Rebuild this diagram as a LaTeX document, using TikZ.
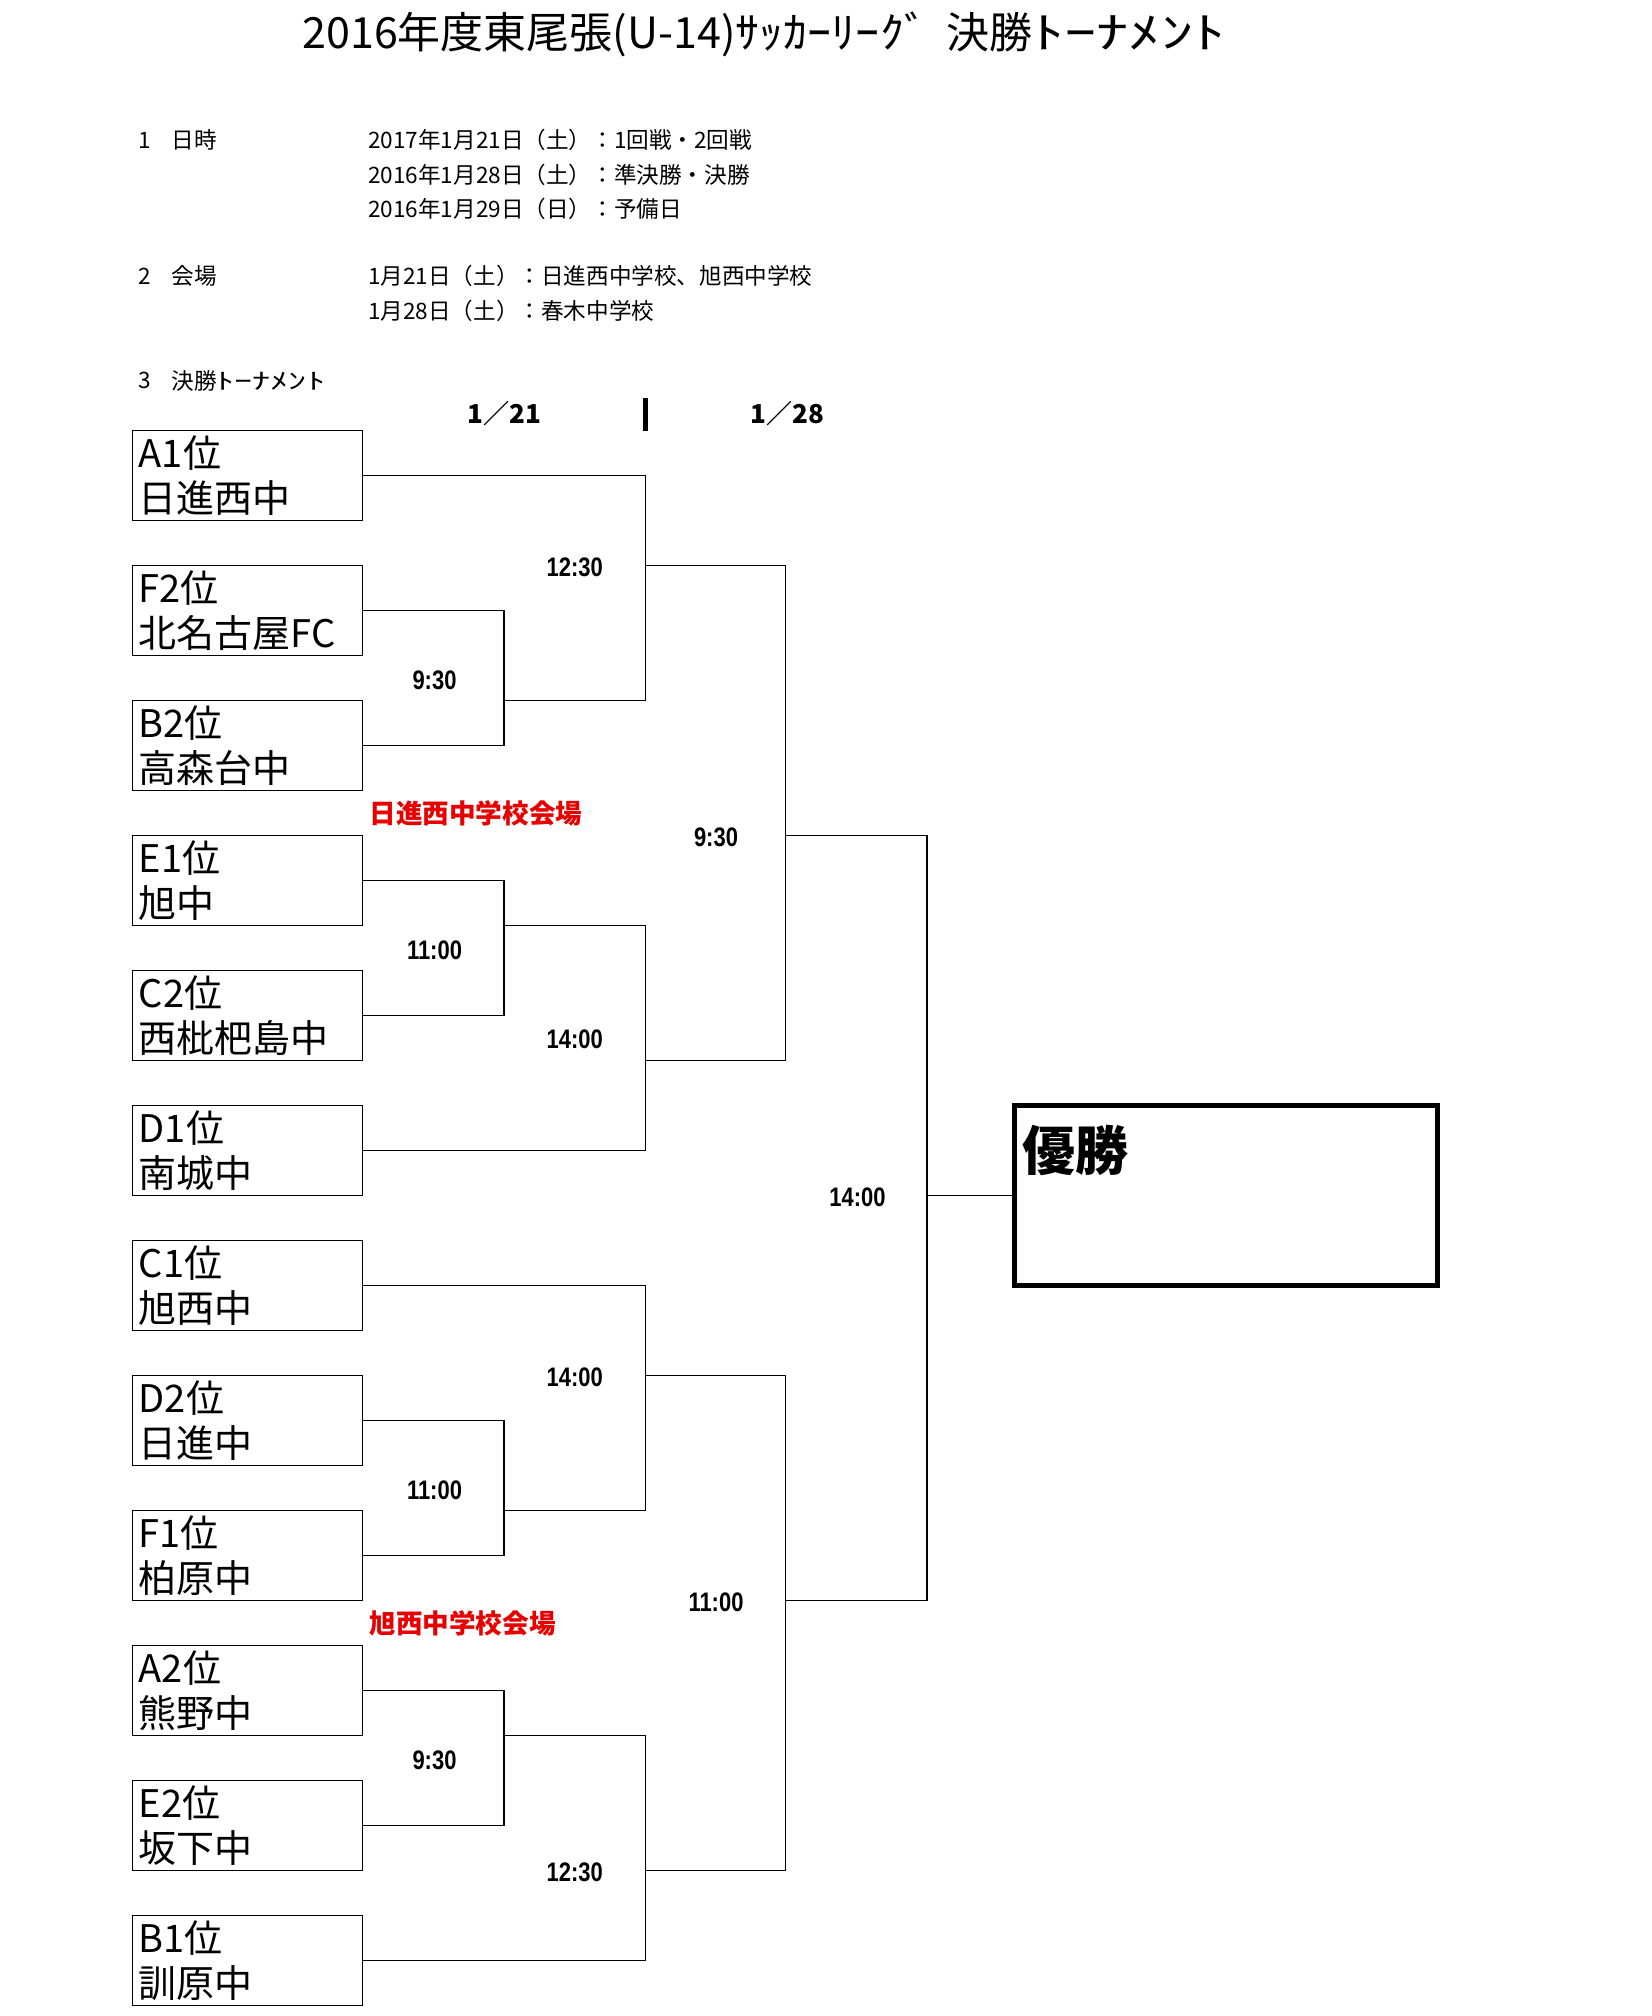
\documentclass[tikz,border=0pt]{standalone}
\usepackage{graphicx}
\usepackage{fontspec}
\setmainfont{Noto Sans CJK JP}
\newfontfamily\latb{Liberation Sans}
\definecolor{venue}{RGB}{232,0,0}
\newcommand\timelbl[1]{\scalebox{0.82}[1]{#1}}
\newcommand\widekana[2]{\scalebox{#1}[1]{#2}}
\begin{document}
\begin{tikzpicture}[x=0.5pt,y=-0.5pt,
  team/.style={draw,line width=0.7pt,minimum width=115pt,minimum height=45pt,
    text width=108.6pt,inner xsep=3.2pt,inner ysep=0pt,align=left,
    font=\fontsize{19pt}{22.5pt}\selectfont},
  conn/.style={line width=0.7pt},
  hdr/.style={anchor=west,inner sep=0pt,font=\fontsize{11.3pt}{13pt}\selectfont},
  tlabel/.style={inner sep=0pt,font=\latb\bfseries\fontsize{13.4pt}{13pt}\selectfont},
  venuelbl/.style={anchor=west,inner sep=0pt,text=venue,font=\bfseries\fontsize{13.3pt}{14pt}\selectfont},
  datelbl/.style={inner sep=0pt,font=\bfseries\fontsize{13pt}{14pt}\selectfont}]
\fill[white] (0,0) rectangle (1652,2016);
\useasboundingbox (0,0) rectangle (1652,2016);

% title
\node[anchor=west,inner sep=0pt,font=\fontsize{21.5pt}{24pt}\selectfont] (title) at (302,34.7)
  {2016年度東尾張(U-14)\widekana{1.12}{ｻｯｶｰﾘｰｸﾞ}\hspace{9pt}決勝\widekana{1.5}{ﾄｰﾅﾒﾝﾄ}};

% header
\node[hdr] (n1) at (137.6,140) {1};
\node[hdr] (k1) at (171,140) {日時};
\node[hdr] (d1) at (367.7,140) {2017年1月21日（土）：1回戦・2回戦};
\node[hdr] (d2) at (367.7,175) {2016年1月28日（土）：準決勝・決勝};
\node[hdr] (d3) at (367.7,208.5) {2016年1月29日（日）：予備日};
\node[hdr] (n2) at (137.6,276.4) {2};
\node[hdr] (k2) at (171,276.4) {会場};
\node[hdr] (v1) at (367.7,276.4) {1月21日（土）：日進西中学校、旭西中学校};
\node[hdr] (v2) at (367.7,311) {1月28日（土）：春木中学校};
\node[hdr] (n3) at (137.6,380.5) {3};
\node[hdr] (k3) at (171,380.5) {決勝\widekana{1.6}{ﾄｰﾅﾒﾝﾄ}};

% dates of rounds
\node[datelbl] (day1) at (504.5,414) {1／21};
\node[datelbl] (day2) at (787.5,414) {1／28};
\draw[line width=2.2pt] (645.4,398.5) -- (645.4,430.7);

% team boxes
\node[team] (t1)  at (247.45,475.7)  {A1位\\日進西中};
\node[team] (t2)  at (247.45,610.7)  {F2位\\北名古屋FC};
\node[team] (t3)  at (247.45,745.6)  {B2位\\高森台中};
\node[team] (t4)  at (247.45,880.6)  {E1位\\旭中};
\node[team] (t5)  at (247.45,1015.6) {C2位\\西枇杷島中};
\node[team] (t6)  at (247.45,1150.6) {D1位\\南城中};
\node[team] (t7)  at (247.45,1285.6) {C1位\\旭西中};
\node[team] (t8)  at (247.45,1420.6) {D2位\\日進中};
\node[team] (t9)  at (247.45,1555.6) {F1位\\柏原中};
\node[team] (t10) at (247.45,1690.6) {A2位\\熊野中};
\node[team] (t11) at (247.45,1825.6) {E2位\\坂下中};
\node[team] (t12) at (247.45,1960.5) {B1位\\訓原中};

% winner box
\node[draw,line width=2.2pt,minimum width=211.5pt,minimum height=90pt,inner sep=0pt] (win) at (1225.8,1195.6) {};
\node[anchor=west,inner sep=0pt,font=\bfseries\fontsize{26.5pt}{28pt}\selectfont] (wintext) at (1022,1150) {優勝};

% junction points
\coordinate (r1a) at (504,700.7);
\coordinate (r2a) at (645.4,565.7);
\coordinate (r1b) at (504,925.6);
\coordinate (r2b) at (645.4,1060.6);
\coordinate (sf1) at (785.5,835.6);
\coordinate (r1c) at (504,1510.6);
\coordinate (r2c) at (645.4,1375.6);
\coordinate (r1d) at (504,1735.6);
\coordinate (r2d) at (645.4,1870.6);
\coordinate (sf2) at (785.5,1600.6);
\coordinate (fin) at (927,1195.6);

% connectors
\draw[conn] (t2.east) -| (r1a);
\draw[conn] (t3.east) -| (r1a);
\draw[conn] (t1.east) -| (r2a);
\draw[conn] (r1a) -| (r2a);
\draw[conn] (t4.east) -| (r1b);
\draw[conn] (t5.east) -| (r1b);
\draw[conn] (r1b) -| (r2b);
\draw[conn] (t6.east) -| (r2b);
\draw[conn] (r2a) -| (sf1);
\draw[conn] (r2b) -| (sf1);
\draw[conn] (t8.east) -| (r1c);
\draw[conn] (t9.east) -| (r1c);
\draw[conn] (t7.east) -| (r2c);
\draw[conn] (r1c) -| (r2c);
\draw[conn] (t10.east) -| (r1d);
\draw[conn] (t11.east) -| (r1d);
\draw[conn] (r1d) -| (r2d);
\draw[conn] (t12.east) -| (r2d);
\draw[conn] (r2c) -| (sf2);
\draw[conn] (r2d) -| (sf2);
\draw[conn] (sf1) -| (fin);
\draw[conn] (sf2) -| (fin);
\draw[conn] (fin) -- (win.west);

% times
\node[tlabel] (m1) at (574.7,567) {\timelbl{12:30}};
\node[tlabel] (m2) at (434.5,680) {\timelbl{9:30}};
\node[tlabel] (m3) at (716,837) {\timelbl{9:30}};
\node[tlabel] (m4) at (434.5,950) {\timelbl{11:00}};
\node[tlabel] (m5) at (574.7,1038.8) {\timelbl{14:00}};
\node[tlabel] (m6) at (857.5,1196.9) {\timelbl{14:00}};
\node[tlabel] (m7) at (574.7,1376.9) {\timelbl{14:00}};
\node[tlabel] (m8) at (434.5,1490) {\timelbl{11:00}};
\node[tlabel] (m9) at (716,1601.9) {\timelbl{11:00}};
\node[tlabel] (m10) at (434.5,1760) {\timelbl{9:30}};
\node[tlabel] (m11) at (574.7,1871.8) {\timelbl{12:30}};

% venues
\node[venuelbl] (ven1) at (369,813.8) {日進西中学校会場};
\node[venuelbl] (ven2) at (369,1623.7) {旭西中学校会場};
\end{tikzpicture}
\end{document}
